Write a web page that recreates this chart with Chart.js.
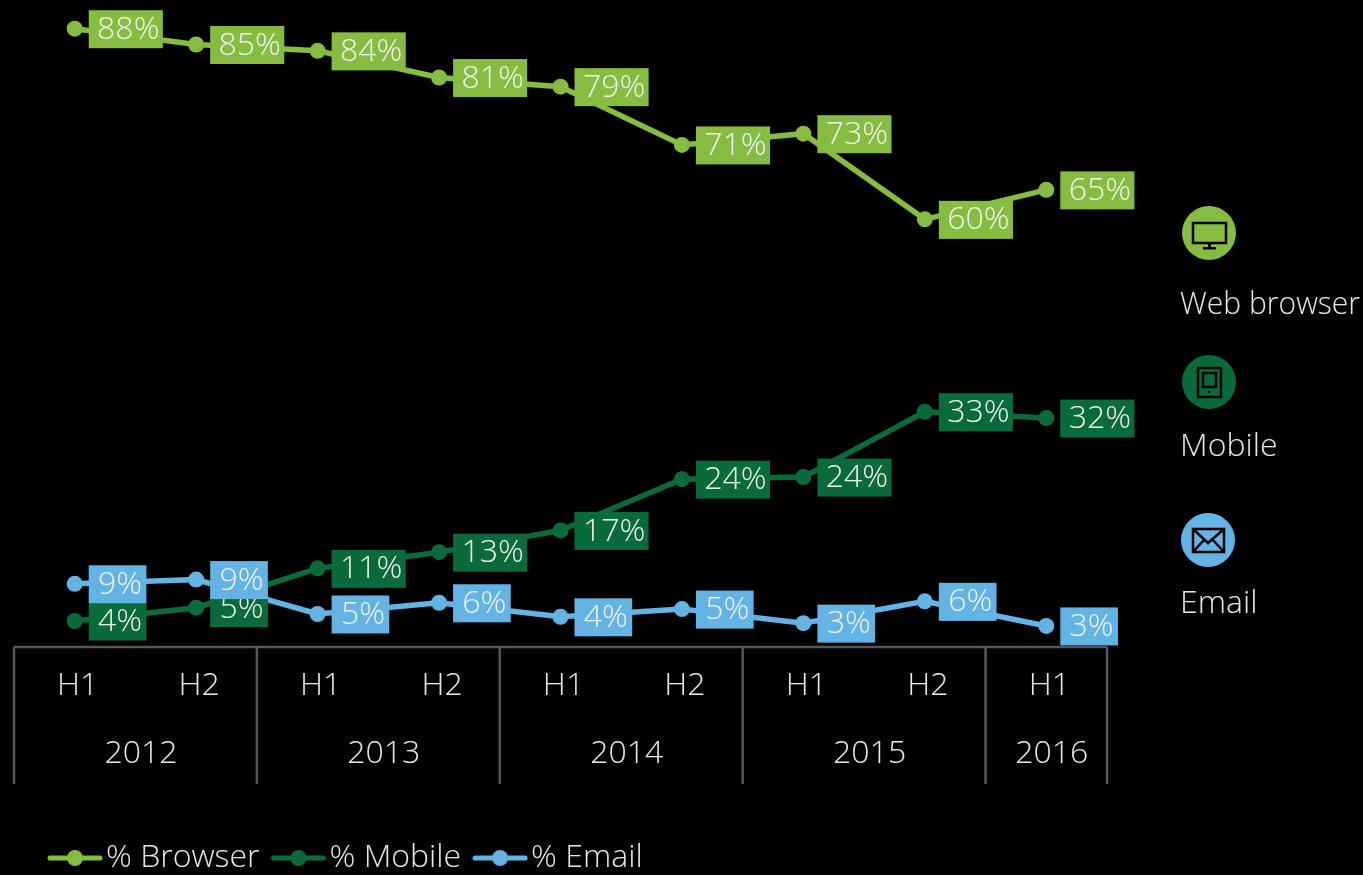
<!DOCTYPE html>
<html><head><meta charset="utf-8">
<style>html,body{margin:0;padding:0;background:#000;overflow:hidden}canvas{display:block}</style>
<script src="https://cdn.jsdelivr.net/npm/chart.js@4"></script></head>
<body><div style="width:1363px;height:875px;position:relative"><canvas id="c" width="1363" height="875"></canvas></div>
<script>
const periods = ['H1','H2','H1','H2','H1','H2','H1','H2','H1'];
const years = ['2012','2013','2014','2015','2016'];
const yearSpans = [2,2,2,2,1];
const browser = [88.05,85.8,84.9,81.1,79.8,71.5,73.1,60.9,65.1];
const mobile = [3.7,5.6,11.2,13.5,16.6,23.9,24.2,33.5,32.6];
const email = [9.0,9.6,4.7,6.3,4.3,5.4,3.4,6.5,3.0];
const browserLabels = ['88%','85%','84%','81%','79%','71%','73%','60%','65%'];
const mobileLabels = ['4%','5%','11%','13%','17%','24%','24%','33%','32%'];
const emailLabels = ['9%','9%','5%','6%','4%','5%','3%','6%','3%'];
const GREEN='#86BC40', DARK='#0A6B3A', BLUE='#63B4E4', TEXT='#E8E8E8', AXIS='#53565A';
const FONT='300 32px "Open Sans"';
Chart.defaults.font.family='"Open Sans"';

function legendIcon(color){
  const c=document.createElement('canvas');c.width=56;c.height=20;
  const g=c.getContext('2d');g.strokeStyle=color;g.lineWidth=5;g.lineCap='round';
  g.beginPath();g.moveTo(3,10);g.lineTo(53,10);g.stroke();
  g.fillStyle=color;g.beginPath();g.arc(28,10,8,0,Math.PI*2);g.fill();
  return c;
}
const mk=(label,data,color,labels)=>({label,data,labels,borderColor:color,backgroundColor:color,
  borderWidth:5.5,pointRadius:8,pointHoverRadius:8,pointBackgroundColor:color,pointBorderWidth:0,
  tension:0,pointStyle:'circle',fill:false});

const boxes={id:'boxes',afterDatasetsDraw(ch){
  const g=ch.ctx;g.save();g.font=FONT;g.textBaseline='middle';g.textAlign='center';
  ch.data.datasets.forEach((ds,i)=>{
    const meta=ch.getDatasetMeta(i);
    meta.data.forEach((p,k)=>{
      const t=ds.labels[k],w=g.measureText(t).width*0.9+18,h=38;
      g.fillStyle=ds.borderColor;
      g.fillRect(p.x+14,p.y-h/2+0.5,w,h);
      g.fillStyle='#F2F2F2';
      g.fillText(t,p.x+14+w/2+2.5,p.y+1);
    });
  });
  g.restore();
}};
const table={id:'table',afterDraw(ch){
  const g=ch.ctx,x=ch.scales.x,bottom=ch.chartArea.bottom,end=bottom+137;
  const band=x.getPixelForValue(1)-x.getPixelForValue(0);
  g.save();g.strokeStyle=AXIS;g.lineWidth=2.5;
  g.beginPath();g.moveTo(x.left,bottom);g.lineTo(x.right,bottom);
  let idx=0,edges=[x.left];
  yearSpans.forEach(s=>{idx+=s;edges.push(x.left+idx*band);});
  edges.forEach(e=>{g.moveTo(e,bottom);g.lineTo(e,end);});
  g.stroke();
  g.fillStyle=TEXT;g.font=FONT;g.textAlign='center';g.textBaseline='middle';
  years.forEach((y,i)=>g.fillText(y,(edges[i]+edges[i+1])/2+5.5,bottom+107));
  g.restore();
}};
function monitor(g,x,y){g.fillStyle='#000';g.strokeRect(x-16,y-10,33,20);g.fillRect(x-1,y+10,3,5);g.fillRect(x-6,y+14,13,2.5);}
function tablet(g,x,y){g.strokeRect(x-11,y-14,23,29);g.strokeRect(x-6,y-9,13,14);g.beginPath();g.arc(x,y+10,1.3,0,7);g.fill();}
function envelope(g,x,y){g.strokeRect(x-15,y-11,31,23);g.beginPath();g.moveTo(x-15,y-11);g.lineTo(x,y+3);g.lineTo(x+16,y-11);g.moveTo(x-15,y+12);g.lineTo(x-4,y);g.moveTo(x+16,y+12);g.lineTo(x+5,y);g.stroke();}
const side={id:'side',afterDraw(ch){
  const g=ch.ctx;g.save();
  [[1209,233,GREEN,monitor,'Web browser',305],[1209,382,DARK,tablet,'Mobile',447],[1208,540,BLUE,envelope,'Email',604]].forEach(a=>{
    g.fillStyle=a[2];g.beginPath();g.arc(a[0],a[1],27,0,Math.PI*2);g.fill();
    g.strokeStyle='#000';g.fillStyle='#000';g.lineWidth=2.5;a[3](g,a[0],a[1]);
    g.fillStyle=TEXT;g.font=FONT;g.textBaseline='middle';g.textAlign='left';g.fillText(a[4],1180,a[5],180);
  });
  g.restore();
}};
const place={id:'place',afterLayout(ch){ch.legend.left=36;ch.legend.top=875-ch.legend.height+9;}};

new Chart(document.getElementById('c'),{
  type:'line',
  data:{labels:periods,datasets:[mk('% Browser',browser,GREEN,browserLabels),mk('% Mobile',mobile,DARK,mobileLabels),mk('% Email',email,BLUE,emailLabels)]},
  plugins:[boxes,table,side,place],
  options:{
    responsive:false,animation:false,
    layout:{padding:{left:14,right:256,top:0,bottom:0}},
    scales:{
      x:{offset:true,grid:{display:false},border:{display:false},
        ticks:{color:TEXT,font:{size:32,weight:'300'},padding:12,labelOffset:3,maxRotation:0,autoSkip:false},
        afterFit(s){s.height=228-(s.chart.legend?s.chart.legend.height:0);}},
      y:{display:false,min:0,max:91}
    },
    plugins:{tooltip:{enabled:false},
      legend:{position:'bottom',align:'start',labels:{usePointStyle:true,pointStyleWidth:30,padding:24,color:TEXT,font:{size:32,weight:'300'},
        generateLabels(ch){
          return ch.data.datasets.map((d,i)=>({text:d.label,datasetIndex:i,fontColor:TEXT,pointStyle:legendIcon(d.borderColor),lineWidth:0,strokeStyle:d.borderColor,fillStyle:d.borderColor}));
        }}}}
  }
});
</script></body></html>
